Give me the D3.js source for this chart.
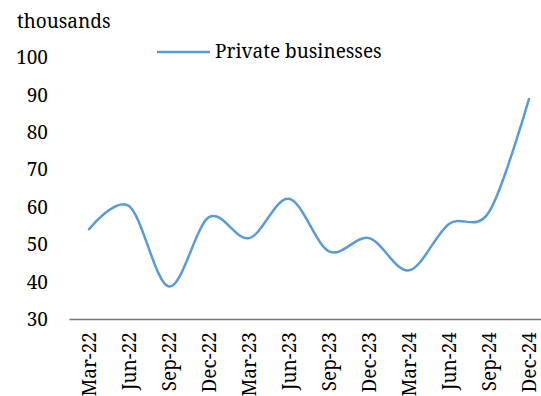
<!DOCTYPE html>
<html>
<head>
<meta charset="utf-8">
<script src="https://cdn.jsdelivr.net/npm/d3@7"></script>
<style>
  body { margin: 0; background: #fff; }
</style>
</head>
<body>
<svg id="chart" width="541" height="396"></svg>
<script>
const quarters = ["Mar-22", "Jun-22", "Sep-22", "Dec-22", "Mar-23", "Jun-23",
                  "Sep-23", "Dec-23", "Mar-24", "Jun-24", "Sep-24", "Dec-24"];
const privateBusinesses = [54.0, 60.2, 38.7, 57.2, 51.6, 62.1, 48.1, 51.6, 43.0, 55.4, 58.6, 88.8];
const yTicks = [30, 40, 50, 60, 70, 80, 90, 100];
const seriesName = "Private businesses";
const unitLabel = "thousands";

const color = "#5B9BD5";
const fontSize = 19;
const fontFamily = '"Noto Sans Serif", "Noto Serif", "Liberation Serif", serif';

const svg = d3.select("#chart");

const xScale = d3.scalePoint(quarters, [69, 549]).padding(0.5);
const yScale = d3.scaleLinear([30, 100], [319, 57]);

function styleText(sel){
    sel.style("font-family", fontFamily)
       .style("font-size", fontSize + "px")
       .attr("fill", "#000");
}

// y tick labels, no axis line
const yAxis = d3.axisLeft(yScale).tickValues(yTicks).tickSize(0).tickPadding(0);
const yG = svg.append("g")
    .attr("transform", "translate(48,0)")
    .call(yAxis);
yG.select(".domain").remove();
yG.selectAll("text")
    .attr("dy", "0.35em")
    .call(styleText);

// x axis
const xAxis = d3.axisBottom(xScale).tickSize(0).tickPadding(0);
const xG = svg.append("g")
    .attr("transform", "translate(0,319)")
    .call(xAxis);
xG.select(".domain")
    .attr("stroke", "#767676")
    .attr("stroke-width", 1.5);
xG.selectAll("text")
    .attr("text-anchor", "end")
    .attr("transform", "rotate(-90)")
    .attr("x", -13)
    .attr("y", 0)
    .attr("dy", "0.35em")
    .call(styleText);

// series line
const line = d3.line()
    .x((d, i) => xScale(quarters[i]))
    .y(d => yScale(d))
    .curve(d3.curveCatmullRom.alpha(0));

svg.append("path")
    .datum(privateBusinesses)
    .attr("fill", "none")
    .attr("stroke", color)
    .attr("stroke-width", 2.5)
    .attr("stroke-linecap", "round")
    .attr("d", line);

// unit label
svg.append("text")
    .attr("x", 17)
    .attr("y", 28)
    .text(unitLabel)
    .call(styleText);

// legend
svg.append("line")
    .attr("x1", 157).attr("x2", 210)
    .attr("y1", 52).attr("y2", 52)
    .attr("stroke", color)
    .attr("stroke-width", 2.5);
svg.append("text")
    .attr("x", 215)
    .attr("y", 58)
    .text(seriesName)
    .call(styleText);
</script>
</body>
</html>
